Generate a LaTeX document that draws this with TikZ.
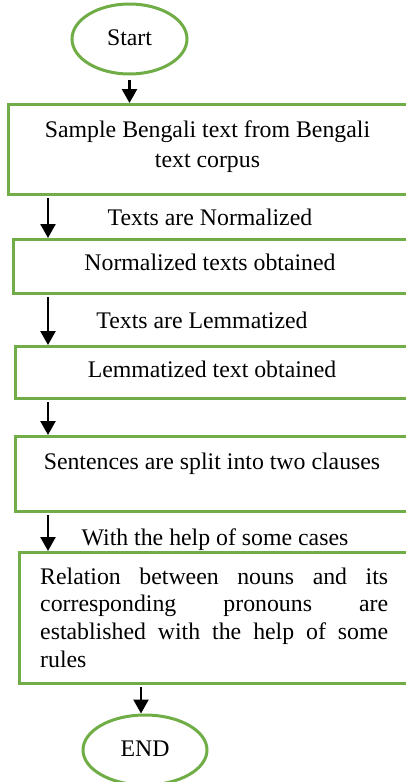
\documentclass[tikz,border=0pt]{standalone}
\usepackage{fontspec}
\setmainfont{Liberation Serif}
\usetikzlibrary{arrows.meta,shapes.geometric}
\definecolor{boxgreen}{RGB}{112,173,71}
\tikzset{
  txt/.style={inner sep=0pt, font=\fontsize{23.8}{28}\selectfont},
  box/.style={draw=boxgreen, line width=3pt, rectangle, anchor=north west, inner sep=0pt},
  term/.style={draw=boxgreen, line width=3pt, ellipse, inner sep=0pt, text height=16pt, text depth=4pt, font=\fontsize{23.8}{28}\selectfont},
  arr/.style={line width=2.4pt, -{Triangle[width=15pt,length=14pt]}, shorten <=2pt}
}
\begin{document}
\begin{tikzpicture}[x=1pt,y=-1pt]
\useasboundingbox (0,0) rectangle (406,782);
\clip (0,0) rectangle (406,782);
% terminals
\node[term, minimum width=115pt, minimum height=70pt] (start) at (129.5,39) {Start};
\node[term, minimum width=124pt, minimum height=70pt] (end) at (145,750) {END};
% boxes
\node[box, minimum width=403pt, minimum height=90pt] (box1) at (7,103) {};
\node[box, minimum width=398pt, minimum height=54pt] (box2) at (12,238) {};
\node[box, minimum width=396pt, minimum height=52pt] (box3) at (14,345) {};
\node[box, minimum width=396pt, minimum height=75pt] (box4) at (14,435) {};
\node[box, minimum width=392pt, minimum height=131pt] (box5) at (18,551) {};
% box texts
\node[txt, anchor=base] (t1) at (207.5,137) {\parbox[t]{380pt}{\fontsize{23.8}{30}\selectfont\centering Sample Bengali text from Bengali\\ text corpus}};
\node[txt, anchor=base] (t2) at (210,270) {Normalized texts obtained};
\node[txt, anchor=base] (t3) at (212,377) {Lemmatized text obtained};
\node[txt, anchor=base] (t4) at (212,469) {Sentences are split into two clauses};
\node[txt, anchor=base west] (t5) at (40,584) {\parbox[t]{348pt}{\fontsize{23.8}{27.7}\selectfont\hbadness=10000 Relation between nouns and its\linebreak corresponding pronouns are\linebreak established with the help of some\linebreak rules}};
% labels
\node[txt, anchor=base] (l1) at (210,225) {Texts are Normalized};
\node[txt, anchor=base] (l2) at (202,328) {Texts are Lemmatized};
\node[txt, anchor=base] (l3) at (215,545) {With the help of some cases};
% arrows
\coordinate (cl) at (48,0);
\coordinate (cr) at (141,0);
\draw[arr, shorten <=4pt] (start.south) -- (box1.north -| start.south);
\draw[arr] (box1.south -| cl) -- (box2.north -| cl);
\draw[arr] (box2.south -| cl) -- (box3.north -| cl);
\draw[arr] (box3.south -| cl) -- (box4.north -| cl);
\draw[arr] (box4.south -| cl) -- (box5.north -| cl);
\draw[arr] (box5.south -| cr) -- (end.north -| cr);
\end{tikzpicture}
\end{document}
